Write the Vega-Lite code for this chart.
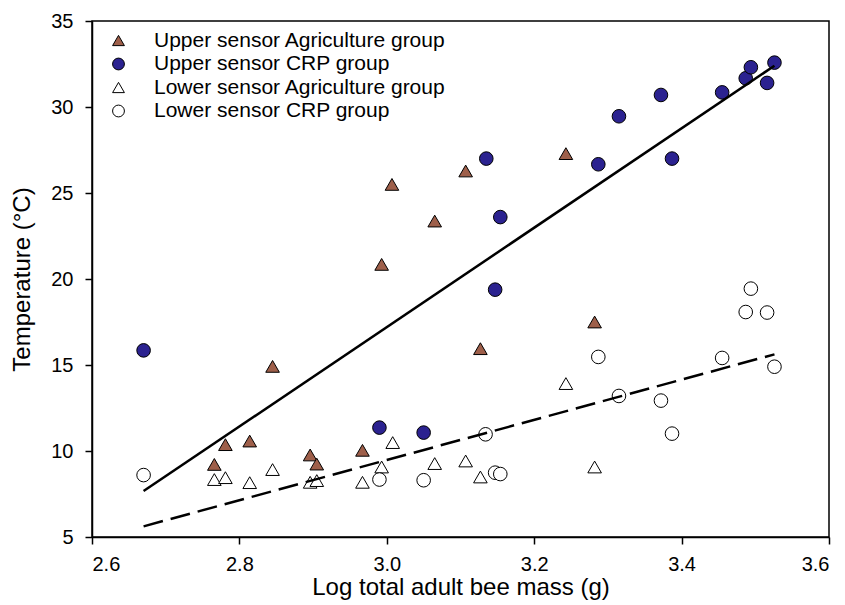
{
  "$schema": "https://vega.github.io/schema/vega-lite/v6.json",
  "width": 737,
  "height": 516,
  "autosize": {"type": "none"},
  "padding": {"left": 92, "top": 21, "right": 16, "bottom": 68},
  "background": "white",
  "config": {
    "font": "Liberation Sans",
    "view": {"stroke": "black", "strokeWidth": 1.5},
    "axis": {
      "grid": false,
      "domainColor": "black",
      "domainWidth": 1.5,
      "tickColor": "black",
      "tickWidth": 1.5,
      "tickSize": 7,
      "labelColor": "black",
      "labelFont": "Liberation Sans",
      "labelFontSize": 20,
      "titleColor": "black",
      "titleFont": "Liberation Sans",
      "titleFontSize": 24,
      "titleFontWeight": "normal"
    },
    "legend": {
      "title": null,
      "orient": "none",
      "legendX": 16,
      "legendY": 9,
      "padding": 0,
      "labelFontSize": 21,
      "labelColor": "black",
      "labelFont": "Liberation Sans",
      "labelLimit": 0,
      "labelOffset": 25,
      "rowPadding": 1.5,
      "symbolSize": 140,
      "symbolStrokeWidth": 1
    }
  },
  "datasets": {
    "pts": [
      {"x": 3.007, "y": 25.5, "group": "Upper sensor Agriculture group"},
      {"x": 3.065, "y": 23.37, "group": "Upper sensor Agriculture group"},
      {"x": 2.993, "y": 20.85, "group": "Upper sensor Agriculture group"},
      {"x": 3.107, "y": 26.28, "group": "Upper sensor Agriculture group"},
      {"x": 3.243, "y": 27.29, "group": "Upper sensor Agriculture group"},
      {"x": 2.845, "y": 14.92, "group": "Upper sensor Agriculture group"},
      {"x": 2.781, "y": 10.37, "group": "Upper sensor Agriculture group"},
      {"x": 2.814, "y": 10.58, "group": "Upper sensor Agriculture group"},
      {"x": 2.766, "y": 9.22, "group": "Upper sensor Agriculture group"},
      {"x": 2.896, "y": 9.77, "group": "Upper sensor Agriculture group"},
      {"x": 2.905, "y": 9.24, "group": "Upper sensor Agriculture group"},
      {"x": 2.967, "y": 10.04, "group": "Upper sensor Agriculture group"},
      {"x": 3.282, "y": 17.5, "group": "Upper sensor Agriculture group"},
      {"x": 3.127, "y": 15.95, "group": "Upper sensor Agriculture group"},
      {"x": 2.670, "y": 15.85, "group": "Upper sensor CRP group"},
      {"x": 2.990, "y": 11.36, "group": "Upper sensor CRP group"},
      {"x": 3.050, "y": 11.07, "group": "Upper sensor CRP group"},
      {"x": 3.135, "y": 27.0, "group": "Upper sensor CRP group"},
      {"x": 3.154, "y": 23.6, "group": "Upper sensor CRP group"},
      {"x": 3.147, "y": 19.38, "group": "Upper sensor CRP group"},
      {"x": 3.287, "y": 26.67, "group": "Upper sensor CRP group"},
      {"x": 3.315, "y": 29.46, "group": "Upper sensor CRP group"},
      {"x": 3.372, "y": 30.7, "group": "Upper sensor CRP group"},
      {"x": 3.387, "y": 27.0, "group": "Upper sensor CRP group"},
      {"x": 3.455, "y": 30.85, "group": "Upper sensor CRP group"},
      {"x": 3.487, "y": 31.67, "group": "Upper sensor CRP group"},
      {"x": 3.494, "y": 32.31, "group": "Upper sensor CRP group"},
      {"x": 3.516, "y": 31.4, "group": "Upper sensor CRP group"},
      {"x": 3.526, "y": 32.58, "group": "Upper sensor CRP group"},
      {"x": 2.766, "y": 8.34, "group": "Lower sensor Agriculture group"},
      {"x": 2.781, "y": 8.45, "group": "Lower sensor Agriculture group"},
      {"x": 2.814, "y": 8.16, "group": "Lower sensor Agriculture group"},
      {"x": 2.845, "y": 8.92, "group": "Lower sensor Agriculture group"},
      {"x": 2.896, "y": 8.18, "group": "Lower sensor Agriculture group"},
      {"x": 2.905, "y": 8.28, "group": "Lower sensor Agriculture group"},
      {"x": 2.967, "y": 8.18, "group": "Lower sensor Agriculture group"},
      {"x": 2.993, "y": 9.07, "group": "Lower sensor Agriculture group"},
      {"x": 3.008, "y": 10.49, "group": "Lower sensor Agriculture group"},
      {"x": 3.065, "y": 9.27, "group": "Lower sensor Agriculture group"},
      {"x": 3.107, "y": 9.42, "group": "Lower sensor Agriculture group"},
      {"x": 3.127, "y": 8.49, "group": "Lower sensor Agriculture group"},
      {"x": 3.243, "y": 13.92, "group": "Lower sensor Agriculture group"},
      {"x": 3.282, "y": 9.07, "group": "Lower sensor Agriculture group"},
      {"x": 2.670, "y": 8.6, "group": "Lower sensor CRP group"},
      {"x": 2.990, "y": 8.34, "group": "Lower sensor CRP group"},
      {"x": 3.050, "y": 8.3, "group": "Lower sensor CRP group"},
      {"x": 3.134, "y": 10.97, "group": "Lower sensor CRP group"},
      {"x": 3.147, "y": 8.74, "group": "Lower sensor CRP group"},
      {"x": 3.154, "y": 8.66, "group": "Lower sensor CRP group"},
      {"x": 3.287, "y": 15.47, "group": "Lower sensor CRP group"},
      {"x": 3.315, "y": 13.2, "group": "Lower sensor CRP group"},
      {"x": 3.372, "y": 12.93, "group": "Lower sensor CRP group"},
      {"x": 3.387, "y": 11.01, "group": "Lower sensor CRP group"},
      {"x": 3.455, "y": 15.41, "group": "Lower sensor CRP group"},
      {"x": 3.487, "y": 18.08, "group": "Lower sensor CRP group"},
      {"x": 3.494, "y": 19.44, "group": "Lower sensor CRP group"},
      {"x": 3.516, "y": 18.05, "group": "Lower sensor CRP group"},
      {"x": 3.526, "y": 14.9, "group": "Lower sensor CRP group"}
    ],
    "solid": [
      {"x": 2.670, "y": 7.67},
      {"x": 3.526, "y": 32.4}
    ],
    "dashed": [
      {"x": 2.670, "y": 5.62},
      {"x": 3.526, "y": 15.62}
    ]
  },
  "layer": [
    {
      "data": {"name": "pts"},
      "mark": {"type": "point", "filled": true, "size": 185, "strokeWidth": 1, "opacity": 1},
      "encoding": {
        "x": {
          "field": "x", "type": "quantitative",
          "scale": {"domain": [2.6, 3.6], "nice": false, "zero": false},
          "axis": {"values": [2.6, 2.8, 3.0, 3.2, 3.4, 3.6], "format": ".1f", "labelPadding": 10, "title": "Log total adult bee mass (g)", "titlePadding": 1}
        },
        "y": {
          "field": "y", "type": "quantitative",
          "scale": {"domain": [5, 35], "nice": false, "zero": false},
          "axis": {"values": [5, 10, 15, 20, 25, 30, 35], "labelPadding": 12, "title": "Temperature (°C)", "titlePadding": 16}
        },
        "shape": {
          "field": "group", "type": "nominal",
          "scale": {
            "domain": ["Upper sensor Agriculture group", "Upper sensor CRP group", "Lower sensor Agriculture group", "Lower sensor CRP group"],
            "range": ["triangle-up", "circle", "triangle-up", "circle"]
          },
          "legend": {"title": null}
        },
        "fill": {
          "field": "group", "type": "nominal",
          "scale": {
            "domain": ["Upper sensor Agriculture group", "Upper sensor CRP group", "Lower sensor Agriculture group", "Lower sensor CRP group"],
            "range": ["#9e5f4a", "#2b2290", "#ffffff", "#ffffff"]
          },
          "legend": {"title": null}
        },
        "stroke": {
          "field": "group", "type": "nominal",
          "scale": {
            "domain": ["Upper sensor Agriculture group", "Upper sensor CRP group", "Lower sensor Agriculture group", "Lower sensor CRP group"],
            "range": ["#000000", "#000000", "#000000", "#000000"]
          },
          "legend": {"title": null}
        }
      }
    },
    {
      "data": {"name": "solid"},
      "mark": {"type": "line", "color": "black", "strokeWidth": 2.5},
      "encoding": {
        "x": {"field": "x", "type": "quantitative"},
        "y": {"field": "y", "type": "quantitative"}
      }
    },
    {
      "data": {"name": "dashed"},
      "mark": {"type": "line", "color": "black", "strokeWidth": 2.5, "strokeDash": [20, 8]},
      "encoding": {
        "x": {"field": "x", "type": "quantitative"},
        "y": {"field": "y", "type": "quantitative"}
      }
    }
  ]
}
